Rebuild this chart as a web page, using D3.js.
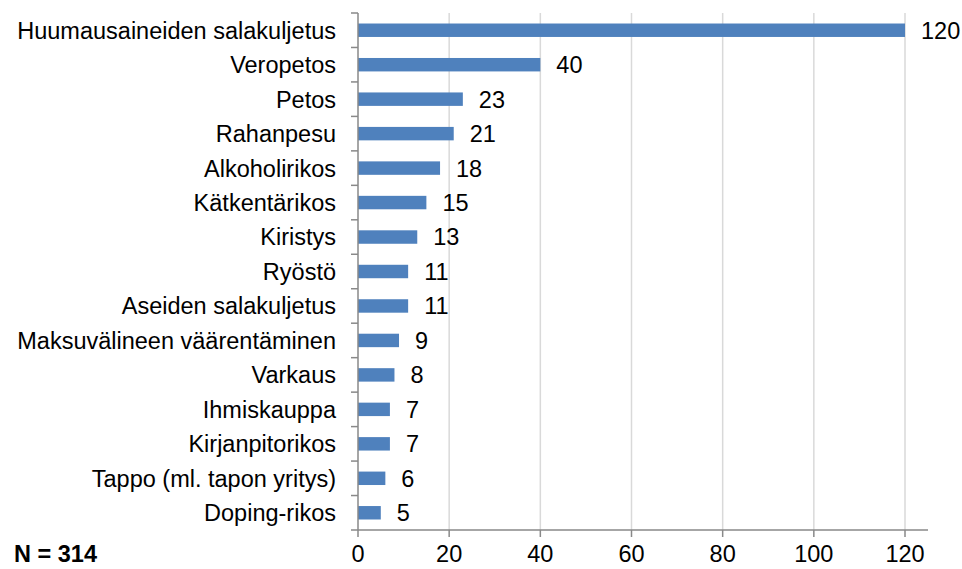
<!DOCTYPE html>
<html>
<head>
<meta charset="utf-8">
<script src="https://cdn.jsdelivr.net/npm/d3@7"></script>
<style>
  body { margin: 0; background: #fff; }
  text { font-family: "Liberation Sans", Arial, sans-serif; }
</style>
</head>
<body>
<div id="chart"></div>
<script>
// Rikosnimikkeet ja tapausten lukumäärät
const categories = [
  "Huumausaineiden salakuljetus", "Veropetos", "Petos", "Rahanpesu",
  "Alkoholirikos", "Kätkentärikos", "Kiristys", "Ryöstö",
  "Aseiden salakuljetus", "Maksuvälineen väärentäminen", "Varkaus",
  "Ihmiskauppa", "Kirjanpitorikos", "Tappo (ml. tapon yritys)", "Doping-rikos"
];
const values = [120, 40, 23, 21, 18, 15, 13, 11, 11, 9, 8, 7, 7, 6, 5];
const xTicks = [0, 20, 40, 60, 80, 100, 120];
const note = "N = 314";

const width = 962, height = 569;
const margin = { top: 13, right: 34, bottom: 39, left: 358 };
const fontSize = "23.5px";

const svg = d3.select("#chart").append("svg")
  .attr("width", width)
  .attr("height", height);

const x = d3.scaleLinear().domain([0, 120]).range([margin.left, 905]);
const y = d3.scaleBand().domain(categories)
  .range([margin.top, height - margin.bottom])
  .paddingInner(0.61).paddingOuter(0.305);

// Pystysuorat apuviivat
svg.append("g")
  .selectAll("line")
  .data(xTicks.slice(1))
  .join("line")
  .attr("x1", d => x(d)).attr("x2", d => x(d))
  .attr("y1", margin.top).attr("y2", height - margin.bottom)
  .attr("stroke", "#d9d9d9")
  .attr("stroke-width", 1.5);

// Palkit
svg.append("g")
  .selectAll("rect")
  .data(values)
  .join("rect")
  .attr("x", x(0))
  .attr("y", (d, i) => y(categories[i]))
  .attr("width", d => x(d) - x(0))
  .attr("height", y.bandwidth())
  .attr("fill", "#4f81bd");

// Arvot palkkien perään
svg.append("g")
  .selectAll("text")
  .data(values)
  .join("text")
  .attr("x", d => x(d) + 16)
  .attr("y", (d, i) => y(categories[i]) + y.bandwidth() / 2)
  .attr("dy", "0.36em")
  .style("font-size", fontSize)
  .attr("fill", "#000")
  .text(d => d);

// X-akseli
const axisY = height - margin.bottom;
svg.append("line")
  .attr("x1", x(0)).attr("x2", 928)
  .attr("y1", axisY).attr("y2", axisY)
  .attr("stroke", "#898989").attr("stroke-width", 1.5);

svg.append("g")
  .selectAll("line")
  .data(xTicks)
  .join("line")
  .attr("x1", d => x(d)).attr("x2", d => x(d))
  .attr("y1", axisY).attr("y2", axisY + 7)
  .attr("stroke", "#898989").attr("stroke-width", 1.5);

svg.append("g")
  .selectAll("text")
  .data(xTicks)
  .join("text")
  .attr("x", d => x(d))
  .attr("y", axisY + 32)
  .attr("text-anchor", "middle")
  .style("font-size", fontSize)
  .text(d => d);

// Y-akseli
const boundaries = d3.range(categories.length + 1)
  .map(i => margin.top + i * (height - margin.bottom - margin.top) / categories.length);

svg.append("line")
  .attr("x1", x(0)).attr("x2", x(0))
  .attr("y1", margin.top).attr("y2", axisY)
  .attr("stroke", "#898989").attr("stroke-width", 1.5);

svg.append("g")
  .selectAll("line")
  .data(boundaries)
  .join("line")
  .attr("x1", x(0) - 7).attr("x2", x(0))
  .attr("y1", d => d).attr("y2", d => d)
  .attr("stroke", "#898989").attr("stroke-width", 1.5);

svg.append("g")
  .selectAll("text")
  .data(categories)
  .join("text")
  .attr("x", 336)
  .attr("y", d => y(d) + y.bandwidth() / 2)
  .attr("dy", "0.36em")
  .attr("text-anchor", "end")
  .style("font-size", fontSize)
  .text(d => d);

// Vastaajien määrä
svg.append("text")
  .attr("x", 14)
  .attr("y", axisY + 32)
  .style("font-size", "23.5px")
  .style("font-weight", "bold")
  .text(note);
</script>
</body>
</html>
